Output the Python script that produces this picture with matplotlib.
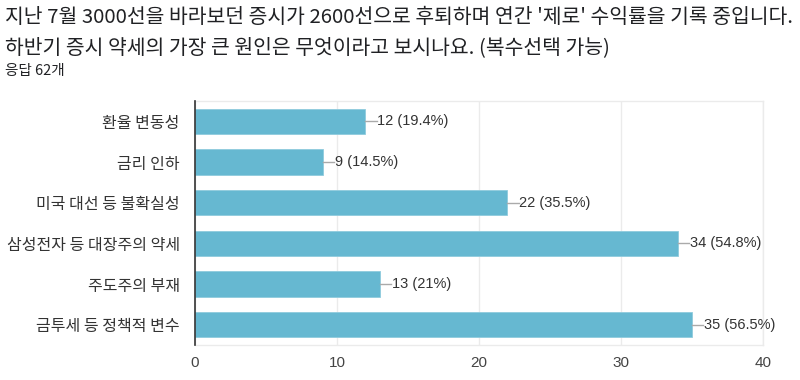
import matplotlib
matplotlib.use("Agg")
import matplotlib.pyplot as plt

plt.rcParams['font.family'] = ['Noto Sans CJK KR', 'DejaVu Sans']

# Data
categories = ['환율 변동성', '금리 인하', '미국 대선 등 불확실성',
              '삼성전자 등 대장주의 약세', '주도주의 부재', '금투세 등 정책적 변수']
counts = [12, 9, 22, 34, 13, 35]
percents = ['19.4%', '14.5%', '35.5%', '54.8%', '21%', '56.5%']
xticks = [0, 10, 20, 30, 40]

title1 = "지난 7월 3000선을 바라보던 증시가 2600선으로 후퇴하며 연간 '제로' 수익률을 기록 중입니다."
title2 = "하반기 증시 약세의 가장 큰 원인은 무엇이라고 보시나요. (복수선택 가능)"
subtitle = "응답 62개"

bar_color = '#66b8d1'
latin = ['Liberation Sans', 'DejaVu Sans']

fig = plt.figure(figsize=(8, 3.8), dpi=100)
W, H = 800, 380
ax = fig.add_axes([195 / W, 1 - 345 / H, (763 - 195) / W, (345 - 101) / H])

y = list(range(len(categories)))
ax.barh(y, counts, height=0.62, color=bar_color, edgecolor='#8fcbdd',
        linewidth=0.6, zorder=3)
ax.set_ylim(len(categories) - 0.5, -0.5)
ax.set_xlim(0, 40)
ax.set_xticks(xticks)
ax.set_xticklabels([str(t) for t in xticks])
ax.set_yticks(y)
ax.set_yticklabels(categories)

# value labels with short connector
for i, (c, p) in enumerate(zip(counts, percents)):
    ax.plot([c, c + 0.8], [i, i], color='#aaaaaa', lw=1, zorder=3,
            clip_on=False)
    ax.text(c + 0.85, i, f"{c} ({p})", va='center', ha='left',
            fontsize=10.5, color='#333333', family=latin)

ax.grid(axis='x', color='#ebebeb', lw=1, zorder=0)
for side in ['top', 'right', 'bottom']:
    ax.spines[side].set_color('#ebebeb')
    ax.spines[side].set_linewidth(1)
ax.spines['left'].set_color('#333333')
ax.spines['left'].set_linewidth(1.2)
ax.spines['left'].set_zorder(4)
ax.tick_params(axis='both', length=0, colors='#444444')
ax.tick_params(axis='x', pad=8, labelsize=11)
ax.tick_params(axis='y', pad=11, labelsize=11.5)
for lab in ax.get_xticklabels():
    lab.set_family(latin)
for lab in ax.get_yticklabels():
    lab.set_color('#333333')

fig.text(5 / W, 1 - 23 / H, title1, fontsize=14.7, color='#202124', va='baseline')
fig.text(5 / W, 1 - 53 / H, title2, fontsize=14.7, color='#202124', va='baseline')
fig.text(5 / W, 1 - 75 / H, subtitle, fontsize=10.5, color='#202124', va='baseline')

fig.savefig('out.png', dpi=100, facecolor='white')
